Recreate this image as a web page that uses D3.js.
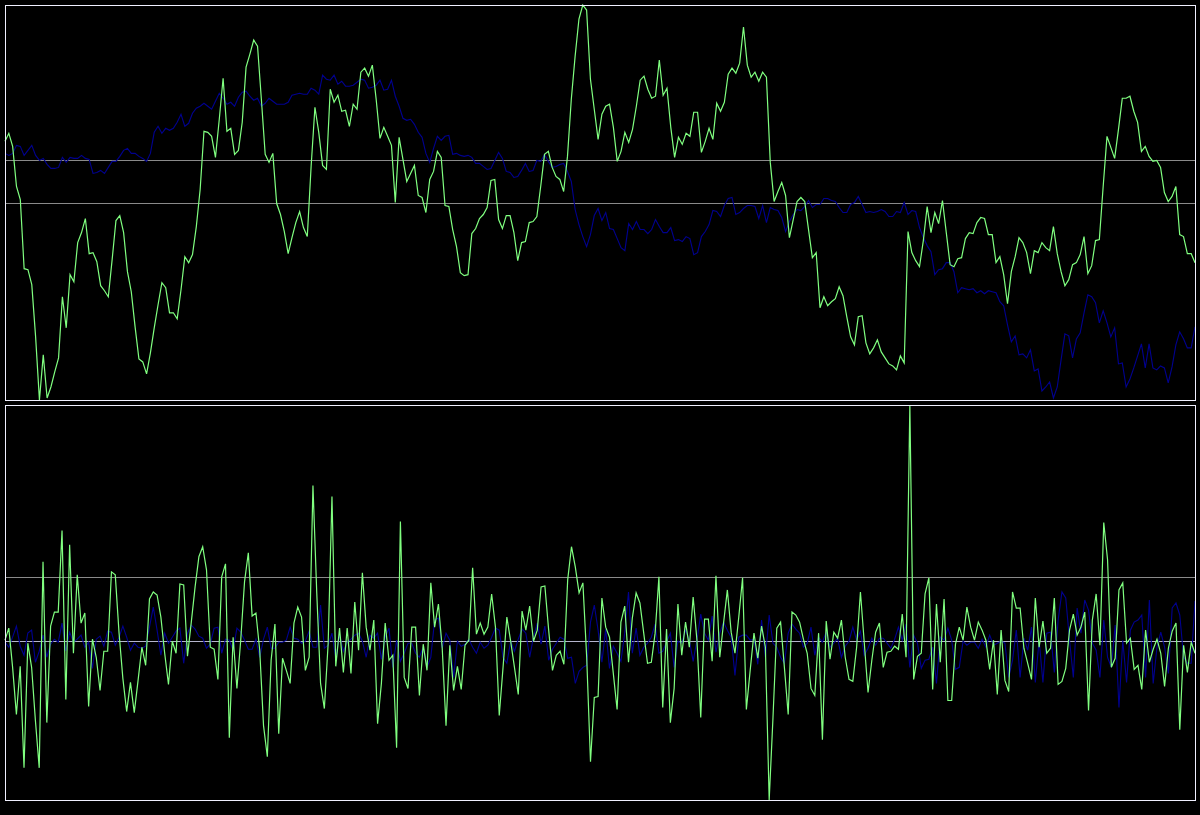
<!DOCTYPE html>
<html>
<head>
<meta charset="utf-8">
<script src="https://cdn.jsdelivr.net/npm/d3@7"></script>
<style>
  body { margin: 0; background: #000; }
</style>
</head>
<body>
<script>
// upper panel: level series
const topGreen = [
  258,266,253,213,200,131,130,115,63,0,45,2,13,28,42,103,72,125,118,157,167,181,146,147,138,114,109,103,140,179,184,167,128,108,73,41,38,26,47,72,95,117,112,87,87,81,110,143,137,145,173,210,
  268,267,263,242,280,321,268,271,245,249,277,332,345,359,353,300,245,237,246,196,185,168,146,162,177,188,172,163,233,292,267,234,230,310,297,304,288,289,273,295,290,327,331,323,334,300,261,272,263,254,197,262,
  240,218,226,234,204,202,187,220,228,248,242,194,193,170,153,127,124,125,166,171,181,185,192,219,220,180,171,184,184,167,139,157,158,177,178,183,213,245,248,232,223,220,208,243,300,343,380,394,389,320,290,260,
  285,293,295,272,238,248,267,257,270,293,319,323,310,301,303,339,304,311,272,242,262,255,266,263,287,287,247,258,271,260,296,288,297,325,331,326,336,372,334,322,327,318,327,322,237,198,208,217,204,162,180,198,
  202,198,170,142,147,92,103,94,98,101,113,104,83,63,55,83,84,57,46,52,60,48,42,36,34,30,44,37,168,147,139,133,159,193,167,187,176,199,167,135,133,141,142,161,167,166,177,182,181,165,165,137,143,
  125,96,128,143,162,157,147,126,149,147,157,152,149,173,146,128,114,120,135,137,145,163,126,134,159,160,213,263,252,241,270,301,301,303,288,277,248,253,243,238,239,232,207,198,203,213,165,163,146,146,137
];
const topBlue = [
  246,244,246,254,253,244,249,254,244,239,241,235,231,231,232,242,237,242,241,241,244,241,240,226,227,229,226,232,238,238,243,249,251,246,246,243,241,238,246,267,273,266,271,269,271,277,285,273,276,286,291,293,
  296,293,290,298,306,301,295,297,293,302,307,308,303,299,301,293,296,301,298,295,295,295,297,304,305,306,305,305,311,309,305,324,320,319,324,315,318,313,313,314,317,320,319,311,312,314,319,309,310,319,303,293,
  281,279,280,275,267,262,246,237,251,263,259,263,264,245,246,244,243,244,242,236,236,233,230,231,239,247,241,228,227,222,223,229,236,228,229,239,238,245,238,232,233,235,236,228,218,190,175,163,153,165,184,191,
  179,187,171,170,161,152,149,176,170,178,170,170,166,170,180,173,167,167,172,159,160,158,163,161,145,147,163,168,175,189,188,183,194,201,202,185,187,191,194,194,193,181,194,177,192,190,189,182,168,178,185,190,
  189,193,199,192,195,195,201,201,199,198,192,187,187,195,197,203,195,187,188,187,188,190,188,183,183,188,187,197,185,189,188,172,162,154,148,125,130,131,137,137,128,107,112,111,110,111,107,109,106,109,108,107,98,
  94,75,58,64,45,46,42,50,29,31,9,13,18,2,13,40,66,64,42,61,67,87,105,103,97,77,89,77,63,72,36,37,13,21,32,44,56,32,56,32,30,34,32,17,33,55,68,61,52,52,73
];
const topLevels = [239, 197];

// lower panel: period changes
const bottomGreen = [
  1,13,-26,-73,-25,-126,-2,-26,-79,-126,79,-81,15,29,29,110,-58,96,-12,66,18,28,-65,2,-16,-49,-10,-10,69,66,8,-37,-70,-41,-71,-39,-6,-24,42,49,46,24,-12,-43,0,-12,57,56,-15,19,54,84,
  94,71,-6,-8,-38,64,77,-96,4,-47,1,59,88,25,28,-9,-84,-115,-19,17,-92,-17,-29,-42,18,34,24,-29,-16,155,48,-42,-67,-2,144,-25,13,-31,13,-32,39,-9,68,14,-9,21,-82,-42,18,-19,-14,-106,119,
  -36,-47,14,14,-54,-3,-29,58,14,37,-7,-84,-4,-49,-25,-48,-4,1,73,7,18,7,14,47,14,-74,-26,24,0,-26,-53,30,11,35,0,11,54,55,11,-29,-14,-10,-23,61,94,74,48,58,-16,-120,-56,-55,
  43,14,4,-32,-68,19,35,-21,23,48,38,8,-22,-21,8,64,-66,12,-81,-47,37,-14,19,-6,44,1,-76,22,22,-20,65,-16,18,51,9,-12,24,63,-68,-29,8,-17,15,-6,-158,-76,13,19,-26,-73,29,26,19,
  2,-12,-47,-54,8,-98,20,-18,9,3,21,-16,-38,-40,-6,49,-1,-51,-19,9,18,-26,-11,-10,-5,-8,27,-16,235,-38,-15,-12,47,63,-48,37,-21,42,-59,-59,-3,14,1,34,14,1,19,11,1,-28,1,-53,11,
  -39,-50,49,33,33,-7,-22,-38,43,-6,20,-12,-7,43,-43,-40,-27,11,27,6,14,29,-69,21,47,-4,118,81,-26,-17,51,58,-2,3,-28,-24,-48,11,-21,-8,2,-12,-45,-7,10,18,-88,-4,-31,-1,-12
];
const bottomBlue = [
  -1,-6,4,15,-5,-14,8,11,-21,-10,6,-16,-3,2,-1,18,-10,9,-1,2,6,-6,-1,-27,2,5,-5,10,9,-4,4,15,4,-9,-2,-6,-7,-5,14,34,11,-14,8,-2,4,10,13,-22,8,16,12,5,
  3,-7,-3,13,14,-12,2,1,-9,13,9,1,-8,-8,2,-16,2,14,-7,-7,-1,-1,1,14,3,2,-2,0,10,-6,-6,36,-7,-4,8,-17,6,-10,-1,2,6,8,0,-16,6,3,8,-18,4,13,-26,1,-20,
  -12,-2,-2,-12,-16,-6,-26,-16,21,23,-7,8,1,-36,0,-5,-3,2,-6,-12,-1,-7,-4,4,13,11,-16,-22,0,-10,2,12,8,-16,4,18,-3,15,-19,-8,-2,4,2,-17,-16,-42,-30,-26,-24,19,36,11,
  -21,12,-27,-5,-12,-20,8,49,-12,13,-14,-6,-2,4,17,-12,-10,-1,8,-26,0,-2,11,1,-20,1,27,8,1,25,-11,8,19,11,4,-34,4,6,6,1,2,-23,21,-16,26,-2,-6,-16,-22,8,17,12,8,
  -6,-2,14,-14,4,-1,9,-6,-2,3,-16,-5,0,14,1,10,-14,-7,3,-4,3,3,-2,-7,2,14,1,17,-26,6,-2,-27,-19,-18,-6,-42,4,1,13,1,-28,-26,0,-4,-1,-1,-7,2,-6,6,-4,-2,0,
  -2,-36,-19,11,-36,3,-9,14,-41,1,-41,8,9,-31,21,49,43,1,-36,33,8,41,31,-2,-9,-36,21,-16,-26,16,-66,1,-41,11,19,21,26,-36,41,-42,-6,9,-6,-32,33,38,26,-16,-22,-22,40
];
const bottomLevels = [64, 0];

const width = 1200, height = 815;
const left = 5, right = 1195;

const svg = d3.select("body").append("svg")
    .attr("width", width)
    .attr("height", height);

svg.append("rect")
    .attr("width", width)
    .attr("height", height)
    .attr("fill", "#000");

// one panel = frame + reference lines + two series
function drawPanel(y0, y1, green, blue, levels, levelColors) {
    const x = d3.scaleLinear()
        .domain([0, green.length - 1])
        .range([left, right]);

    const y = d3.scaleLinear()
        .domain(d3.extent(green.concat(blue)))
        .range([y1, y0]);

    const g = svg.append("g");

    g.selectAll(".level")
        .data(levels)
        .enter().append("line")
        .attr("x1", left)
        .attr("x2", right)
        .attr("y1", d => Math.round(y(d)) + 0.5)
        .attr("y2", d => Math.round(y(d)) + 0.5)
        .attr("stroke", (d, i) => levelColors[i])
        .attr("stroke-width", 1);

    const line = d3.line()
        .x((d, i) => x(i))
        .y(d => y(d));

    g.append("path")
        .datum(blue)
        .attr("d", line)
        .attr("fill", "none")
        .attr("stroke", "#000090")
        .attr("stroke-width", 1.1);

    g.append("path")
        .datum(green)
        .attr("d", line)
        .attr("fill", "none")
        .attr("stroke", "#80ff80")
        .attr("stroke-width", 1.2);

    g.append("rect")
        .attr("x", left + 0.5)
        .attr("y", y0 + 0.5)
        .attr("width", right - left)
        .attr("height", y1 - y0)
        .attr("fill", "none")
        .attr("stroke", "#f0f0ff")
        .attr("stroke-width", 1);
}

drawPanel(5, 400, topGreen, topBlue, topLevels, ["#8a8a8a", "#8a8a8a"]);
drawPanel(405, 800, bottomGreen, bottomBlue, bottomLevels, ["#8a8a8a", "#b4b4cc"]);
</script>
</body>
</html>
